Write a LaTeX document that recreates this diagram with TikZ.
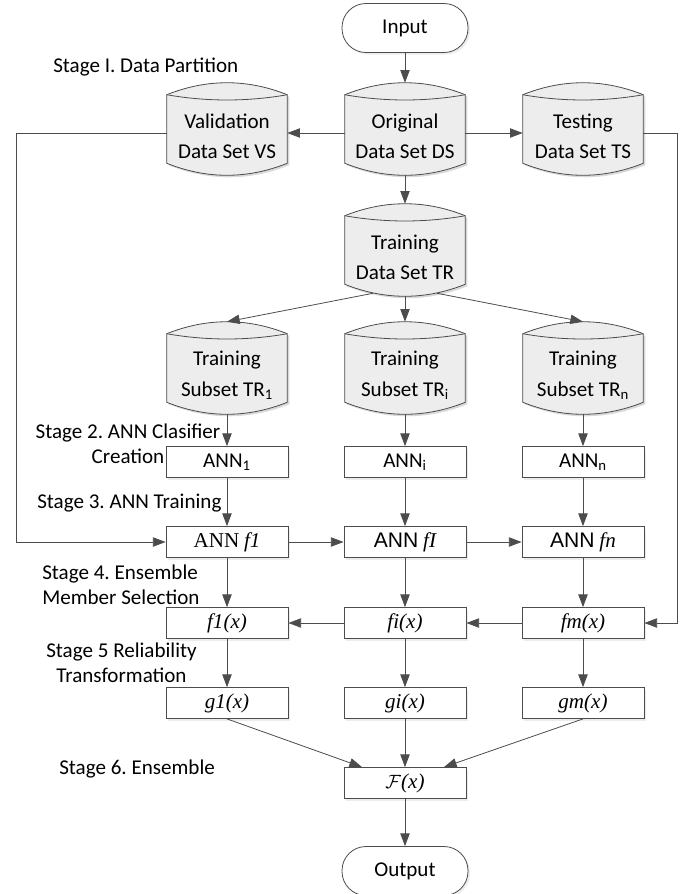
\documentclass[tikz,border=0pt]{standalone}
\usepackage{fontspec}
\setmainfont{Carlito}
\newfontfamily\timesfont{Liberation Serif}
\newfontfamily\arialfont{Liberation Sans}
\usetikzlibrary{arrows.meta,calc,shadows,backgrounds}
\frenchspacing

% italic serif function names
\newcommand{\fn}[1]{{\timesfont\itshape #1}}

% cylinder outline behind a data set node
\newcommand{\dbcyl}[1]{%
  \begin{pgfonlayer}{background}
    \fill[black!15] ($(#1.north west)+(2,14)$) .. controls +(40,-16) and +(-40,-16) .. ($(#1.north east)+(2,14)$)
      -- ($(#1.south east)+(2,-10)$) .. controls +(-40,16) and +(40,16) .. ($(#1.south west)+(2,-10)$) -- cycle;
    \draw[dbline] ($(#1.north west)+(0,12)$) .. controls +(40,-16) and +(-40,-16) .. ($(#1.north east)+(0,12)$)
      -- ($(#1.south east)+(0,-12)$) .. controls +(-40,16) and +(40,16) .. ($(#1.south west)+(0,-12)$) -- cycle;
    \draw[dbline, fill=none] ($(#1.north west)+(0,12)$) .. controls +(40,7) and +(-40,7) .. ($(#1.north east)+(0,12)$);
  \end{pgfonlayer}}

\begin{document}
\begin{tikzpicture}[
        x=0.75pt, y=-0.75pt,
        >={Triangle[length=9.5pt,width=7pt]},
        font=\fontsize{15.8}{19}\selectfont,
        box/.style={draw=black!70, fill=white, line width=0.6pt, minimum width=91.5pt, minimum height=23.25pt,
            inner sep=0pt, drop shadow={shadow xshift=1.5pt, shadow yshift=-1.5pt, fill=black!15}},
        term/.style={box, minimum width=94.5pt, minimum height=36.75pt, rounded corners=18pt},
        db/.style={minimum width=90pt, minimum height=69pt, inner sep=0pt, label={[dbtext]center:#1}},
        dbtext/.style={align=center, inner sep=0pt, yshift=-5.5pt, font=\fontsize{15.8}{23}\selectfont},
        dbline/.style={draw=black!70, line width=0.6pt, fill=black!7},
        arr/.style={->, draw=black!70, line width=0.6pt},
        stage/.style={inner sep=0pt}
    ]
    \useasboundingbox (0,0) rectangle (684,894);

    % --- Stage I: data partition ---
    \node[term] (input) at (405,28) {Input};
    \node[db={Validation\\Data Set VS}] (vs) at (227,129) {};
    \node[db={Original\\Data Set DS}] (ds) at (405,129) {};
    \node[db={Testing\\Data Set TS}] (ts) at (583,129) {};
    \node[db={Training\\Data Set TR}] (tr) at (405,250) {};
    \node[db={Training\\Subset TR\textsubscript{1}}] (tr1) at (227,368) {};
    \node[db={Training\\Subset TR\textsubscript{i}}] (tri) at (405,368) {};
    \node[db={Training\\Subset TR\textsubscript{n}}] (trn) at (583,368) {};
    \dbcyl{vs} \dbcyl{ds} \dbcyl{ts} \dbcyl{tr}
    \dbcyl{tr1} \dbcyl{tri} \dbcyl{trn}

    % --- Stages 2-6: classifiers ---
    \node[box] (ann1) at (227,462) {ANN\textsubscript{1}};
    \node[box] (anni) at (405,462) {ANN\textsubscript{i}};
    \node[box] (annn) at (583,462) {ANN\textsubscript{n}};

    \node[box] (annf1) at (227,542) {{\timesfont ANN} \fn{f1}};
    \node[box] (annfi) at (405,542) {{\arialfont ANN} \fn{fI}};
    \node[box] (annfn) at (583,542) {{\arialfont ANN} \fn{fn}};

    \node[box] (f1) at (227,623) {\fn{f1(x)}};
    \node[box] (fi) at (405,623) {\fn{fi(x)}};
    \node[box] (fm) at (583,623) {\fn{fm(x)}};

    \node[box] (g1) at (227,703) {\fn{g1(x)}};
    \node[box] (gi) at (405,703) {\fn{gi(x)}};
    \node[box] (gm) at (583,703) {\fn{gm(x)}};

    \node[box] (ens) at (405,783) {\fn{$\mathcal{F}$(x)}};
    \node[term] (output) at (405,871) {Output};

    % stage labels
    \node[stage, anchor=west] (lab1) at (53,67) {Stage I. Data Partition};
    \node[stage, align=center] (lab2) at (128,443.5) {Stage 2. ANN Clasifier\\Creation};
    \node[stage, anchor=west] (lab3) at (37,503) {Stage 3. ANN Training};
    \node[stage, anchor=west, align=left] (lab4) at (42,584.5) {Stage 4. Ensemble\\Member Selection};
    \node[stage, align=center] (lab5) at (121.5,663) {Stage 5 Reliability\\Transformation};
    \node[stage, anchor=west] (lab6) at (59,769) {Stage 6. Ensemble};

    % --- Connectors ---
    \coordinate (leftbus) at (16,133);
    \coordinate (rightbus) at (677,133);

    \draw[arr] (input) -- (ds);
    \draw[arr] ([yshift=-3pt]ds.west) -- ([yshift=-3pt]vs.east);
    \draw[arr] ([yshift=-3pt]ds.east) -- ([yshift=-3pt]ts.west);
    \draw[arr] (ds) -- (tr);
    \draw[arr] ($(tr.south)+(-32,-3)$) -- (tr1.north);
    \draw[arr] (tr) -- (tri);
    \draw[arr] ($(tr.south)+(32,-3)$) -- (trn.north);

    \draw[arr] (tr1) -- (ann1);
    \draw[arr] (tri) -- (anni);
    \draw[arr] (trn) -- (annn);
    \draw[arr] (ann1) -- (annf1);
    \draw[arr] (anni) -- (annfi);
    \draw[arr] (annn) -- (annfn);
    \draw[arr] (annf1) -- (annfi);
    \draw[arr] (annfi) -- (annfn);

    \draw[arr] (annf1) -- (f1);
    \draw[arr] (annfi) -- (fi);
    \draw[arr] (annfn) -- (fm);
    \draw[arr] (fm) -- (fi);
    \draw[arr] (fi) -- (f1);

    \draw[arr] ([yshift=-3pt]vs.west) -- (leftbus) |- (annf1.west);
    \draw[arr] ([yshift=-3pt]ts.east) -- (rightbus) |- (fm.east);

    \draw[arr] (f1) -- (g1);
    \draw[arr] (fi) -- (gi);
    \draw[arr] (fm) -- (gm);
    \draw[arr] (g1.south) -- ($(ens.north)+(-43,0)$);
    \draw[arr] (gi) -- (ens);
    \draw[arr] (gm.south) -- ($(ens.north)+(39,0)$);
    \draw[arr] (ens) -- (output);

\end{tikzpicture}
\end{document}
